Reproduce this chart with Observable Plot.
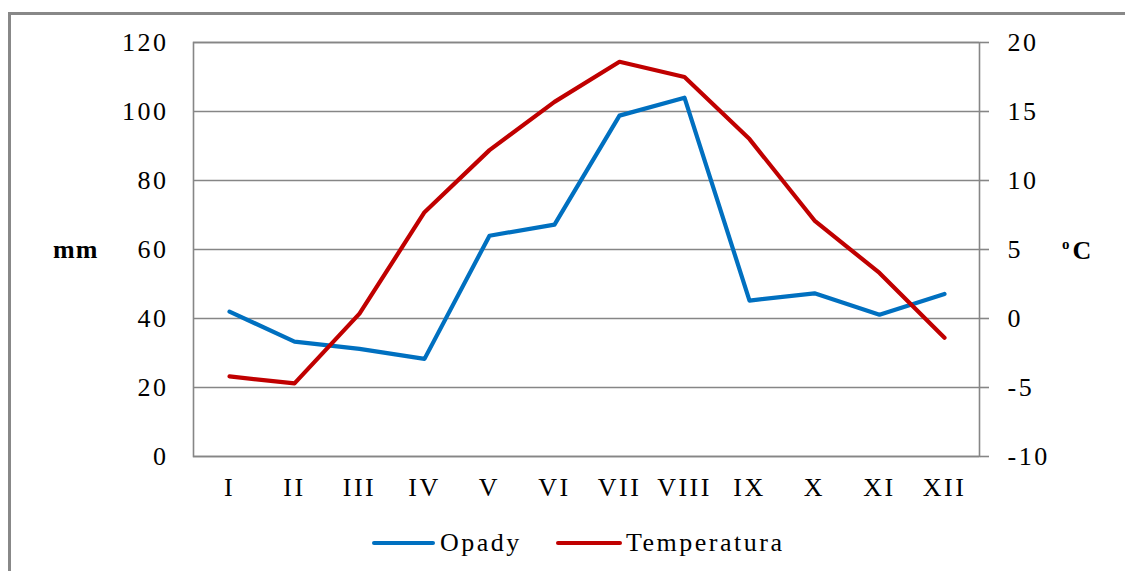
<!DOCTYPE html>
<html>
<head>
<meta charset="utf-8">
<script src="https://cdn.jsdelivr.net/npm/d3@7"></script>
<script src="https://cdn.jsdelivr.net/npm/@observablehq/plot@0.6"></script>
<style>
  html, body { margin: 0; padding: 0; background: #fff; }
  body { width: 1125px; height: 571px; overflow: hidden; position: relative; font-family: "Liberation Serif", "Times New Roman", serif; }
  #frame { position: absolute; left: 8px; top: 12px; width: 1300px; height: 800px; border: 3px solid #888; box-sizing: border-box; }
  #chart { position: absolute; left: 0; top: 0; }
  .lab { position: absolute; font-size: 26px; font-weight: bold; color: #000; letter-spacing: 1px; line-height: 1; }
  .leg { position: absolute; top: 528px; font-size: 26px; color: #000; letter-spacing: 2.5px; line-height: 30px; height: 30px; }
  .sw { position: absolute; height: 4px; top: 541px; border-radius: 2px; }
</style>
</head>
<body>
<div id="frame"></div>
<div id="chart"></div>
<div class="lab" style="left:53px; top:237px;">mm</div>
<div class="lab" style="left:1062px; top:237px; letter-spacing:3px;"><span style="font-size:15px; vertical-align: 10px;">o</span>C</div>
<div class="sw" style="left:372px; width:63px; background:#0070C0;"></div>
<div class="leg" style="left:440px;">Opady</div>
<div class="sw" style="left:556px; width:66px; background:#C00000;"></div>
<div class="leg" style="left:626px;">Temperatura</div>
<script>
const months = ["I","II","III","IV","V","VI","VII","VIII","IX","X","XI","XII"];
const opady = [42, 33.3, 31.2, 28.3, 64, 67.2, 98.8, 104, 45.2, 47.3, 41.1, 47.1];
const temperatura = [-4.2, -4.7, 0.35, 7.7, 12.2, 15.7, 18.6, 17.5, 13.0, 7.1, 3.3, -1.4];
const mmTicks = [0, 20, 40, 60, 80, 100, 120];
const tempTicks = [-10, -5, 0, 5, 10, 15, 20];

// right axis maps temperature (-10..20) onto mm scale (0..120)
const tToMm = t => (t + 10) * 4;
const mmToT = v => v / 4 - 10;

const rowsO = months.map((m, i) => ({m, v: opady[i]}));
const rowsT = months.map((m, i) => ({m, v: tToMm(temperatura[i])}));

const chart = Plot.plot({
  width: 1125,
  height: 510,
  marginLeft: 193,
  marginRight: 146,
  marginTop: 42,
  marginBottom: 54,
  style: {fontFamily: '"Liberation Serif", "Times New Roman", serif', fontSize: "26px", letterSpacing: "2.5px", color: "#000", background: "transparent"},
  x: {type: "point", domain: months, padding: 0.5, label: null},
  y: {domain: [0, 120], label: null},
  marks: [
    Plot.ruleY(mmTicks, {stroke: "#868686", strokeWidth: 1.6}),
    Plot.frame({stroke: "#868686", strokeWidth: 1.6}),
    Plot.axisY(mmTicks, {anchor: "left", tickSize: 0, tickPadding: 25, label: null, fill: "#000"}),
    Plot.axisY(tempTicks.map(tToMm), {anchor: "right", tickSize: 9, tickPadding: 19, tickFormat: d => String(mmToT(d)), label: null, stroke: "#868686", strokeWidth: 1.6, fill: "#000"}),
    Plot.axisX({anchor: "bottom", tickSize: 0, tickPadding: 21, label: null, fill: "#000"}),
    Plot.line(rowsO, {x: "m", y: "v", stroke: "#0070C0", strokeWidth: 4.2, strokeLinejoin: "round", strokeLinecap: "round"}),
    Plot.line(rowsT, {x: "m", y: "v", stroke: "#C00000", strokeWidth: 4.2, strokeLinejoin: "round", strokeLinecap: "round"})
  ]
});
document.getElementById("chart").appendChild(chart);
</script>
</body>
</html>
